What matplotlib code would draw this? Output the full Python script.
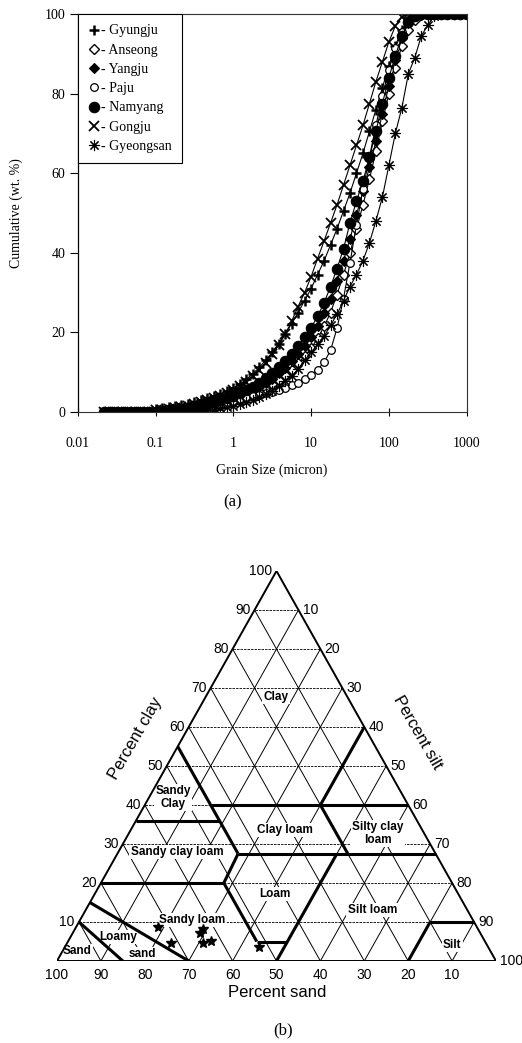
import numpy as np
import matplotlib
matplotlib.use('Agg')
import matplotlib.pyplot as plt
from matplotlib.lines import Line2D

W, H = 522, 1043

# grain size classes (micron)
size_um = [0.0215, 0.0261, 0.0316, 0.0383, 0.0464, 0.0562, 0.0681, 0.0825,
           0.1, 0.121, 0.147, 0.178, 0.215, 0.261, 0.316, 0.383, 0.464, 0.562, 0.681, 0.825,
           1, 1.21, 1.47, 1.78, 2.15, 2.61, 3.16, 3.83, 4.64, 5.62, 6.81, 8.25,
           10, 12.1, 14.7, 17.8, 21.5, 26.1, 31.6, 38.3, 46.4, 56.2, 68.1, 82.5,
           100, 121, 147, 178, 215, 261, 316, 383, 464, 562, 681, 825, 1000]

# cumulative wt. % per site
gyungju = [0, 0, 0, 0, 0, 0, 0, 0,
           0.8, 1.0, 1.2, 1.5, 1.8, 2.1, 2.5, 2.9, 3.4, 3.9, 4.5, 5.2,
           6.0, 7.0, 8.2, 9.6, 11.2, 13.0, 15.0, 17.2, 19.6, 22.2, 25.0, 28.0,
           31.0, 34.5, 38.0, 42.0, 46.0, 50.5, 55.0, 60.0, 65.0, 70.5, 76.0, 81.5,
           87.0, 92.0, 96.0, 98.5, 99.7, 100, 100, 100, 100, 100, 100, 100, 100]
anseong = [0, 0, 0, 0, 0, 0, 0, 0,
           0, 0, 0, 0.2, 0.4, 0.6, 0.8, 1.0, 1.3, 1.6, 2.0, 2.4,
           2.9, 3.4, 4.0, 4.6, 5.3, 6.1, 7.0, 8.0, 9.2, 10.6, 12.2, 14.0,
           16.0, 18.5, 21.5, 25.0, 29.5, 34.5, 40.0, 46.0, 52.0, 58.5, 65.5, 73.0,
           80.0, 86.5, 92.0, 96.0, 98.6, 99.7, 100, 100, 100, 100, 100, 100, 100]
yangju = [0, 0, 0, 0, 0, 0, 0, 0,
          0, 0, 0.2, 0.4, 0.6, 0.8, 1.0, 1.3, 1.6, 2.0, 2.4, 2.9,
          3.4, 4.0, 4.7, 5.4, 6.3, 7.3, 8.4, 9.7, 11.1, 12.7, 14.5, 16.5,
          18.8, 21.5, 24.8, 28.5, 33.0, 38.0, 43.5, 49.5, 55.5, 61.5, 68.0, 75.0,
          82.0, 88.5, 94.0, 97.8, 99.5, 100, 100, 100, 100, 100, 100, 100, 100]
paju = [0, 0, 0, 0, 0, 0, 0, 0,
        0, 0, 0, 0, 0, 0, 0, 0.3, 0.7, 1.1, 1.6, 2.1,
        2.6, 3.1, 3.5, 3.9, 4.3, 4.7, 5.1, 5.6, 6.1, 6.7, 7.4, 8.3,
        9.3, 10.6, 12.5, 15.5, 21.0, 28.5, 37.5, 47.0, 56.0, 64.0, 72.0, 79.5,
        86.0, 91.5, 95.5, 98.2, 99.5, 100, 100, 100, 100, 100, 100, 100, 100]
namyang = [0, 0, 0, 0, 0, 0, 0, 0,
           0, 0.2, 0.4, 0.6, 0.8, 1.0, 1.3, 1.6, 2.0, 2.4, 2.9, 3.4,
           4.0, 4.7, 5.5, 6.4, 7.4, 8.5, 9.8, 11.2, 12.8, 14.6, 16.6, 18.8,
           21.2, 24.0, 27.5, 31.5, 36.0, 41.0, 47.5, 53.0, 58.0, 64.0, 70.5, 77.5,
           84.0, 89.5, 94.5, 98.0, 99.6, 100, 100, 100, 100, 100, 100, 100, 100]
gongju = [0, 0, 0, 0, 0, 0, 0, 0,
          0.4, 0.6, 0.8, 1.0, 1.3, 1.6, 2.0, 2.4, 2.9, 3.4, 4.0, 4.7,
          5.5, 6.5, 7.6, 9.0, 10.6, 12.4, 14.5, 16.8, 19.5, 22.8, 26.5, 30.0,
          34.0, 38.5, 43.0, 47.5, 52.0, 57.0, 62.0, 67.0, 72.0, 77.5, 83.0, 88.0,
          93.0, 97.0, 99.3, 100, 100, 100, 100, 100, 100, 100, 100, 100, 100]
gyeongsan = [0, 0, 0, 0, 0, 0, 0, 0,
             0, 0, 0, 0, 0, 0, 0, 0.2, 0.4, 0.6, 0.9, 1.2,
             1.6, 2.0, 2.5, 3.0, 3.7, 4.5, 5.4, 6.5, 7.7, 9.0, 10.8, 13.0,
             15.0, 17.0, 19.0, 21.8, 24.5, 28.0, 31.5, 34.5, 38.0, 42.5, 48.0, 54.0,
             62.0, 70.0, 76.5, 85.0, 89.0, 94.5, 97.2, 99.5, 100, 100, 100, 100, 100]

sites = ['Gyungju', 'Anseong', 'Yangju', 'Paju', 'Namyang', 'Gongju', 'Gyeongsan']
x_ticks = [0.01, 0.1, 1, 10, 100, 1000]
x_ticklabels = ['0.01', '0.1', '1', '10', '100', '1000']
y_ticks = [0, 20, 40, 60, 80, 100]

# soil texture samples (percent sand, percent clay)
sample_sand = [72.6, 71.7, 63.8, 62.6, 64.4, 62.4, 52.2]
sample_clay = [8.7, 4.6, 7.2, 8.2, 4.6, 5.1, 3.6]

# USDA class boundaries as (sand, clay) end points
boundaries = [((90, 10), (85, 0)),
              ((85, 15), (70, 0)),
              ((80, 20), (52, 20)),
              ((52, 20), (52, 5)),
              ((52, 5), (45, 5)),
              ((50, 0), (22.5, 27.5)),
              ((52, 20), (45, 27.5)),
              ((45, 27.5), (0, 27.5)),
              ((45, 27.5), (45, 55)),
              ((64, 36), (45, 36)),
              ((45, 40), (0, 40)),
              ((20, 40), (0, 60)),
              ((20, 40), (20, 27.5)),
              ((20, 0), (10, 10)),
              ((10, 10), (0, 10))]

class_labels = [('Clay', 49.9, 67.7), ('Sandy\nClay', 26.5, 42.0),
                ('Clay loam', 51.9, 33.6), ('Silty clay\nloam', 73.1, 32.6),
                ('Sandy clay loam', 27.3, 28.0), ('Loam', 49.7, 17.2),
                ('Silt loam', 71.8, 13.1), ('Sandy loam', 30.8, 10.5),
                ('Loamy', 13.9, 6.2), ('sand', 19.4, 1.8),
                ('Sand', 4.6, 2.6), ('Silt', 90.0, 4.1)]

serif = 'Liberation Serif'
sans = 'Liberation Sans'

fig = plt.figure(figsize=(W / 100, H / 100), dpi=100)


def fx(px):
    return px / W


def fy(py):
    return 1 - py / H


# ---------------- (a) cumulative curves ----------------
ax = fig.add_axes([fx(77.7), fy(412), (466.7 - 77.7) / W, (412 - 14) / H])

styles = [
    dict(marker='+', ms=7, mew=1.8, mfc='black', mec='black'),
    dict(marker='D', ms=5, mew=1.0, mfc='white', mec='black'),
    dict(marker='D', ms=5.5, mew=0.8, mfc='black', mec='black'),
    dict(marker='o', ms=5.5, mew=0.9, mfc='white', mec='black'),
    dict(marker='o', ms=7.5, mew=0.8, mfc='black', mec='black'),
    dict(marker='x', ms=6.5, mew=1.3, mfc='black', mec='black'),
    dict(marker=(8, 2, 0), ms=8, mew=0.8, mfc='0.4', mec='black'),
]
series = [gyungju, anseong, yangju, paju, namyang, gongju, gyeongsan]

handles = []
for name, vals, st in zip(sites, series, styles):
    ax.plot(size_um, vals, color='black', lw=0.8, **st)
    handles.append(Line2D([], [], ls='none', color='black', **st))

ax.set_xscale('log')
ax.set_xlim(0.01, 1000)
ax.set_ylim(0, 100)
ax.set_xticks(x_ticks)
ax.set_xticklabels(x_ticklabels)
ax.set_yticks(y_ticks)
ax.minorticks_off()
ax.tick_params(axis='x', direction='inout', length=6, width=0.8, pad=15, labelsize=10)
ax.tick_params(axis='y', direction='out', length=6, width=0.8, pad=3, labelsize=10)
for lab in ax.get_xticklabels() + ax.get_yticklabels():
    lab.set_family(serif)
ax.spines['left'].set_linewidth(0.9)
for side in ['top', 'right', 'bottom']:
    ax.spines[side].set_linewidth(0.8)
    ax.spines[side].set_linestyle((0, (2, 1)))
    ax.spines[side].set_color('0.2')

leg = ax.legend(handles, ['- ' + s for s in sites], loc='upper left',
                bbox_to_anchor=(0, 1), borderaxespad=0, fancybox=False,
                edgecolor='black', framealpha=1, handlelength=0.8,
                handletextpad=0.15, labelspacing=0.45, borderpad=0.75,
                prop={'family': serif, 'size': 10})
leg.get_frame().set_linewidth(0.8)

fig.text(fx(16), fy(213), 'Cumulative (wt. %)', rotation=90, ha='center',
         va='center', family=serif, fontsize=10)
fig.text(fx(272), fy(470), 'Grain Size (micron)', ha='center', va='center',
         family=serif, fontsize=10)
fig.text(fx(233), fy(502), '(a)', ha='center', va='center', family=serif,
         fontsize=12)

# ---------------- (b) texture triangle ----------------
tx = fig.add_axes([fx(57), fy(961), 439 / W, 390 / H])
tx.set_xlim(0, 100)
tx.set_ylim(0, 100)
tx.axis('off')


def tern(sand, clay):
    sand = np.asarray(sand, float)
    clay = np.asarray(clay, float)
    silt = 100 - sand - clay
    return silt + clay / 2, clay


for v in range(10, 100, 10):
    x, y = tern([100 - v, 0], [v, v])
    tx.plot(x, y, color='black', lw=0.6, ls=(0, (3, 1.2)), zorder=1)
    x, y = tern([v, v], [0, 100 - v])
    tx.plot(x, y, color='black', lw=0.7, zorder=1)
    x, y = tern([100 - v, 0], [0, 100 - v])
    tx.plot(x, y, color='black', lw=0.7, zorder=1)

x, y = tern([100, 0, 0, 100], [0, 0, 100, 0])
tx.plot(x, y, color='black', lw=1.4, zorder=3, solid_joinstyle='miter')

for (s1, c1), (s2, c2) in boundaries:
    x, y = tern([s1, s2], [c1, c2])
    tx.plot(x, y, color='black', lw=2.2, zorder=3, solid_capstyle='butt')

for name, xc, yc in class_labels:
    tx.text(xc, yc, name, ha='center', va='center', family=sans,
            fontweight='bold', fontsize=8.5, linespacing=1.1, zorder=2,
            bbox=dict(boxstyle='square,pad=0.1', fc='white', ec='none'))

sx, sy = tern(sample_sand, sample_clay)
tx.plot(sx, sy, ls='none', marker='*', ms=7, color='black', zorder=4)

for v in range(10, 110, 10):
    x, y = tern(100 - v, v)
    tx.annotate(str(v), (x, y), xytext=(-3, 0), textcoords='offset points',
                ha='right', va='center', family=sans, fontsize=10)
    x, y = tern(0, 100 - v)
    tx.annotate(str(v), (x, y), xytext=(3, 0), textcoords='offset points',
                ha='left', va='center', family=sans, fontsize=10)
    x, y = tern(v, 0)
    tx.annotate(str(v), (x, y), xytext=(0, -10), textcoords='offset points',
                ha='center', va='center', family=sans, fontsize=10)

tx.text(17.8, 57.2, 'Percent clay', rotation=60, ha='center', va='center',
        family=sans, fontsize=12, rotation_mode='anchor')
tx.text(82.2, 58.7, 'Percent silt', rotation=-60, ha='center', va='center',
        family=sans, fontsize=12, rotation_mode='anchor')
tx.text(50.1, -8.2, 'Percent sand', ha='center', va='center', family=sans,
        fontsize=12)
tx.text(51.5, -17.7, '(b)', ha='center', va='center', family=serif,
        fontsize=12)

fig.savefig('out.png', dpi=100)
